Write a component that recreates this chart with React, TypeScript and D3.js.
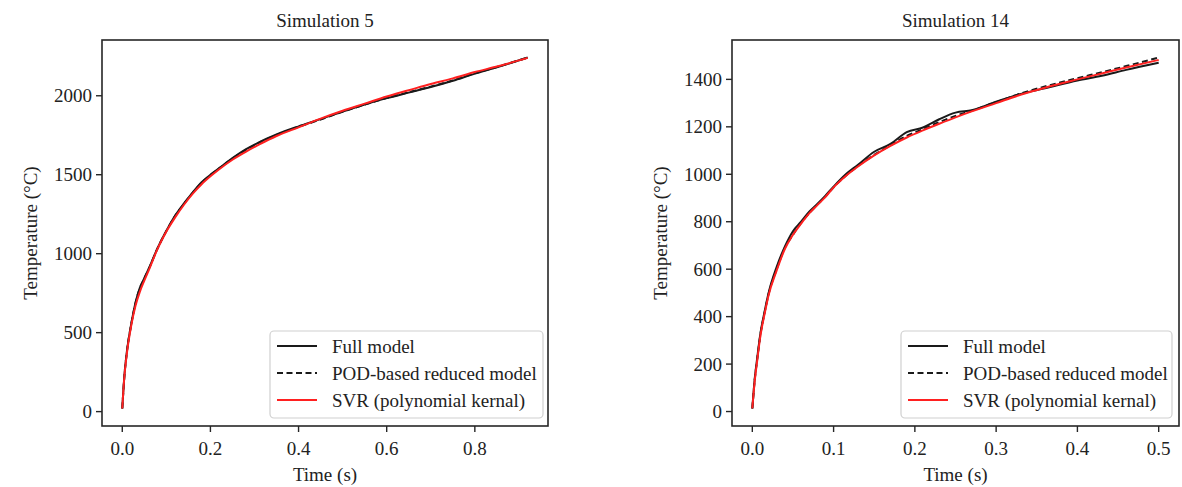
import { useMemo } from "react";
import * as d3 from "d3";

// Simulation 5
const time5 = [0, 0.005, 0.01, 0.02, 0.03, 0.04, 0.05, 0.06, 0.08, 0.1, 0.12, 0.14, 0.16, 0.18, 0.2, 0.22, 0.25, 0.28, 0.31, 0.35, 0.4, 0.45, 0.5, 0.55, 0.6, 0.65, 0.7, 0.75, 0.8, 0.85, 0.92];
const full5 = [20, 235, 370, 550, 690, 785, 845, 905, 1035, 1145, 1242, 1318, 1388, 1452, 1500, 1542, 1605, 1660, 1705, 1755, 1806, 1852, 1900, 1945, 1985, 2020, 2055, 2095, 2140, 2180, 2242];
const pod5 = [20, 232, 368, 548, 686, 782, 842, 902, 1033, 1143, 1240, 1316, 1386, 1450, 1498, 1540, 1602, 1656, 1702, 1752, 1803, 1850, 1899, 1944, 1986, 2022, 2058, 2097, 2142, 2182, 2242];
const svr5 = [20, 230, 360, 540, 670, 760, 830, 895, 1030, 1140, 1230, 1310, 1380, 1440, 1490, 1535, 1595, 1645, 1690, 1745, 1800, 1855, 1905, 1950, 1995, 2035, 2075, 2110, 2150, 2185, 2240];

// Simulation 14
const time14 = [0, 0.003, 0.006, 0.01, 0.015, 0.02, 0.03, 0.04, 0.05, 0.06, 0.07, 0.08, 0.09, 0.1, 0.115, 0.13, 0.15, 0.17, 0.19, 0.21, 0.23, 0.25, 0.27, 0.3, 0.33, 0.36, 0.4, 0.43, 0.46, 0.5];
const full14 = [13, 140, 225, 330, 420, 500, 610, 695, 760, 800, 842, 875, 910, 948, 1000, 1040, 1095, 1128, 1178, 1197, 1232, 1260, 1270, 1306, 1338, 1362, 1395, 1415, 1440, 1470];
const pod14 = [13, 135, 220, 325, 415, 495, 600, 690, 745, 795, 836, 872, 906, 945, 994, 1035, 1082, 1122, 1162, 1190, 1220, 1246, 1268, 1304, 1340, 1370, 1405, 1430, 1456, 1492];
const svr14 = [13, 130, 215, 320, 410, 490, 595, 685, 745, 792, 835, 870, 905, 945, 993, 1033, 1080, 1120, 1155, 1185, 1213, 1240, 1265, 1300, 1335, 1365, 1400, 1425, 1450, 1482];

const xTicks5 = [0, 0.2, 0.4, 0.6, 0.8];
const yTicks5 = [0, 500, 1000, 1500, 2000];
const xTicks14 = [0, 0.1, 0.2, 0.3, 0.4, 0.5];
const yTicks14 = [0, 200, 400, 600, 800, 1000, 1200, 1400];

const legendLabels = ["Full model", "POD-based reduced model", "SVR (polynomial kernal)"];

const FONT = "'Liberation Serif', 'Times New Roman', serif";
const FS = 19;

type PanelProps = {
  title: string;
  left: number;
  right: number;
  time: number[];
  series: number[][];
  xTicks: number[];
  yTicks: number[];
  xFmt: (v: number) => string;
  legendLeft: number;
  legendRight: number;
};

function Panel({ title, left, right, time, series, xTicks, yTicks, xFmt, legendLeft, legendRight }: PanelProps) {
  const top = 40;
  const bottom = 426;
  const clipId = `clip-${title.replace(/\s/g, "")}`;

  const x = useMemo(() => {
    const [a, b] = d3.extent(time) as [number, number];
    const m = (b - a) * 0.05;
    return d3.scaleLinear().domain([a - m, b + m]).range([left, right]);
  }, [time, left, right]);

  const y = useMemo(() => {
    const all = series.flat();
    const [a, b] = d3.extent(all) as [number, number];
    const m = (b - a) * 0.05;
    return d3.scaleLinear().domain([a - m, b + m]).range([bottom, top]);
  }, [series]);

  const line = (vals: number[]) =>
    d3
      .line<number>()
      .x((_, i) => x(time[i]))
      .y((d) => y(d))
      .curve(d3.curveMonotoneX)(vals) || "";

  const styles = [
    { stroke: "#1a1a1a", dash: undefined },
    { stroke: "#1a1a1a", dash: "6 3.5" },
    { stroke: "#ff2020", dash: undefined },
  ];

  const legTop = 331;
  const legBottom = 418;

  return (
    <g>
      <text x={(left + right) / 2} y={27} textAnchor="middle" fontSize={FS} fontFamily={FONT} fill="#222">
        {title}
      </text>
      <defs>
        <clipPath id={clipId}>
          <rect x={left} y={top} width={right - left} height={bottom - top} />
        </clipPath>
      </defs>
      <g clipPath={`url(#${clipId})`}>
        {series.map((vals, i) => (
          <path
            key={i}
            d={line(vals)}
            fill="none"
            stroke={styles[i].stroke}
            strokeWidth={2}
            strokeDasharray={styles[i].dash}
          />
        ))}
      </g>
      <rect x={left} y={top} width={right - left} height={bottom - top} fill="none" stroke="#262626" strokeWidth={1.6} />
      {xTicks.map((t) => (
        <g key={`x${t}`}>
          <line x1={x(t)} x2={x(t)} y1={bottom} y2={bottom + 6} stroke="#262626" strokeWidth={1.4} />
          <text x={x(t)} y={455} textAnchor="middle" fontSize={FS} fontFamily={FONT} fill="#222">
            {xFmt(t)}
          </text>
        </g>
      ))}
      {yTicks.map((t) => (
        <g key={`y${t}`}>
          <line x1={left - 6} x2={left} y1={y(t)} y2={y(t)} stroke="#262626" strokeWidth={1.4} />
          <text x={left - 10} y={y(t)} dy="0.35em" textAnchor="end" fontSize={FS} fontFamily={FONT} fill="#222">
            {t}
          </text>
        </g>
      ))}
      <text x={(left + right) / 2} y={481} textAnchor="middle" fontSize={FS} fontFamily={FONT} fill="#222">
        Time (s)
      </text>
      <text
        transform={`translate(${left - 72},${(top + bottom) / 2}) rotate(-90)`}
        textAnchor="middle"
        dy="0.35em"
        fontSize={FS}
        fontFamily={FONT}
        fill="#222"
      >
        Temperature (°C)
      </text>
      <rect
        x={legendLeft}
        y={legTop}
        width={legendRight - legendLeft}
        height={legBottom - legTop}
        rx={4}
        fill="white"
        fillOpacity={0.8}
        stroke="#d0d0d0"
        strokeWidth={1.2}
      />
      {legendLabels.map((lab, i) => {
        const cy = 346 + i * 27;
        return (
          <g key={lab}>
            <line
              x1={legendLeft + 7}
              x2={legendLeft + 47}
              y1={cy}
              y2={cy}
              stroke={styles[i].stroke}
              strokeWidth={2}
              strokeDasharray={styles[i].dash}
            />
            <text x={legendLeft + 62} y={cy} dy="0.35em" fontSize={FS} fontFamily={FONT} fill="#222">
              {lab}
            </text>
          </g>
        );
      })}
    </g>
  );
}

export default function App() {
  const fmt1 = d3.format(".1f");
  return (
    <svg width={1182} height={487} style={{ position: "absolute", left: 0, top: 0, background: "white" }}>
      <rect width={1182} height={487} fill="white" />
      <Panel
        title="Simulation 5"
        left={102}
        right={548}
        time={time5}
        series={[full5, pod5, svr5]}
        xTicks={xTicks5}
        yTicks={yTicks5}
        xFmt={fmt1}
        legendLeft={270}
        legendRight={543}
      />
      <Panel
        title="Simulation 14"
        left={732}
        right={1179}
        time={time14}
        series={[full14, pod14, svr14]}
        xTicks={xTicks14}
        yTicks={yTicks14}
        xFmt={fmt1}
        legendLeft={901}
        legendRight={1172}
      />
    </svg>
  );
}
